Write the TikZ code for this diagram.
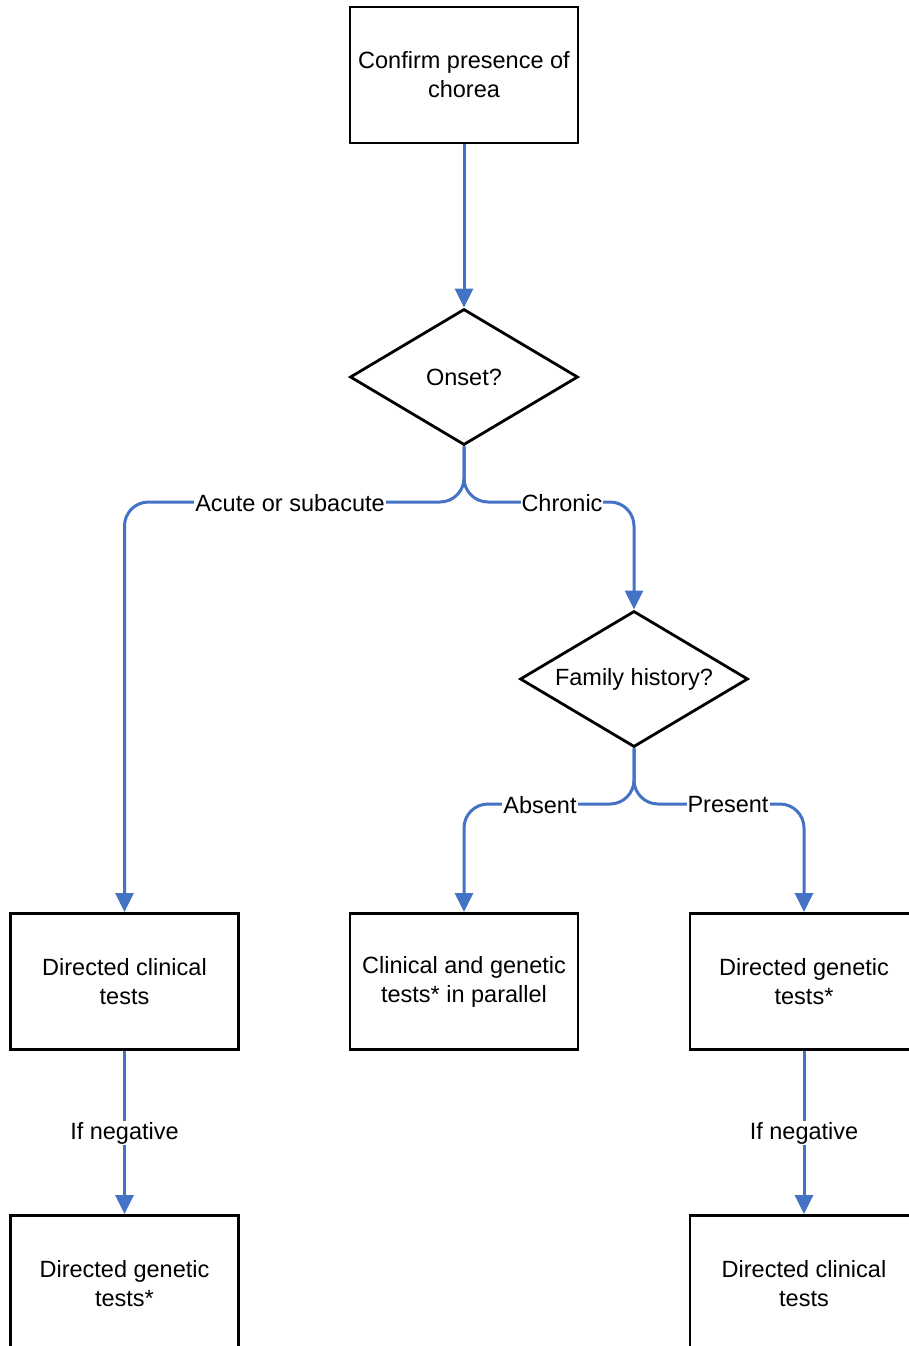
\documentclass[tikz,border=0pt]{standalone}
\usepackage{fontspec}
\setmainfont{Liberation Sans}
\usetikzlibrary{shapes.geometric,arrows.meta}
\definecolor{flowblue}{RGB}{68,114,196}
\begin{document}
\begin{tikzpicture}[x=1pt,y=-1pt,
  every node/.style={font=\fontsize{23.5}{29}\selectfont, align=center},
  stepbox/.style={draw=black, line width=2.8pt, rectangle, minimum width=228pt, minimum height=136pt, inner sep=0pt},
  decision/.style={draw=black, line width=2.8pt, diamond, aspect=1.69, minimum width=228pt, minimum height=136pt, inner sep=0pt},
  conn/.style={draw=flowblue, line width=3pt, -{Triangle[width=18pt,length=19pt]}},
  lbl/.style={fill=white, inner sep=1pt}]
\useasboundingbox (0,0) rectangle (909,1346);
\node[stepbox] (confirm) at (464,75) {Confirm presence of\\chorea};
\node[decision] (onset) at (464,377) {Onset?};
\node[decision] (family) at (634,679) {Family history?};
\node[stepbox] (clinA) at (124.5,981.5) {Directed clinical\\tests};
\node[stepbox] (par) at (464,981.5) {Clinical and genetic\\tests* in parallel};
\node[stepbox] (genB) at (804,981.5) {Directed genetic\\tests*};
\node[stepbox] (genA) at (124.5,1283.5) {Directed genetic\\tests*};
\node[stepbox] (clinB) at (804,1283.5) {Directed clinical\\tests};

\draw[conn] (confirm.south) -- (onset.north);
\draw[conn, rounded corners=24pt] (onset.south) -- (464,502) -| (clinA.north);
\draw[conn, rounded corners=24pt] (onset.south) -- (464,502) -| (family.north);
\draw[conn, rounded corners=24pt] (family.south) -- (634,804) -| (par.north);
\draw[conn, rounded corners=24pt] (family.south) -- (634,804) -| (genB.north);
\draw[conn] (clinA.south) -- (genA.north);
\draw[conn] (genB.south) -- (clinB.north);

\node[lbl] (lacute) at (290,503) {Acute or subacute};
\node[lbl] (lchronic) at (562,503) {Chronic};
\node[lbl] (labsent) at (540,805) {Absent};
\node[lbl] (lpresent) at (728,805) {Present};
\node[lbl] (lnegA) at (124.5,1133) {If negative};
\node[lbl] (lnegB) at (804,1133) {If negative};
\end{tikzpicture}
\end{document}
